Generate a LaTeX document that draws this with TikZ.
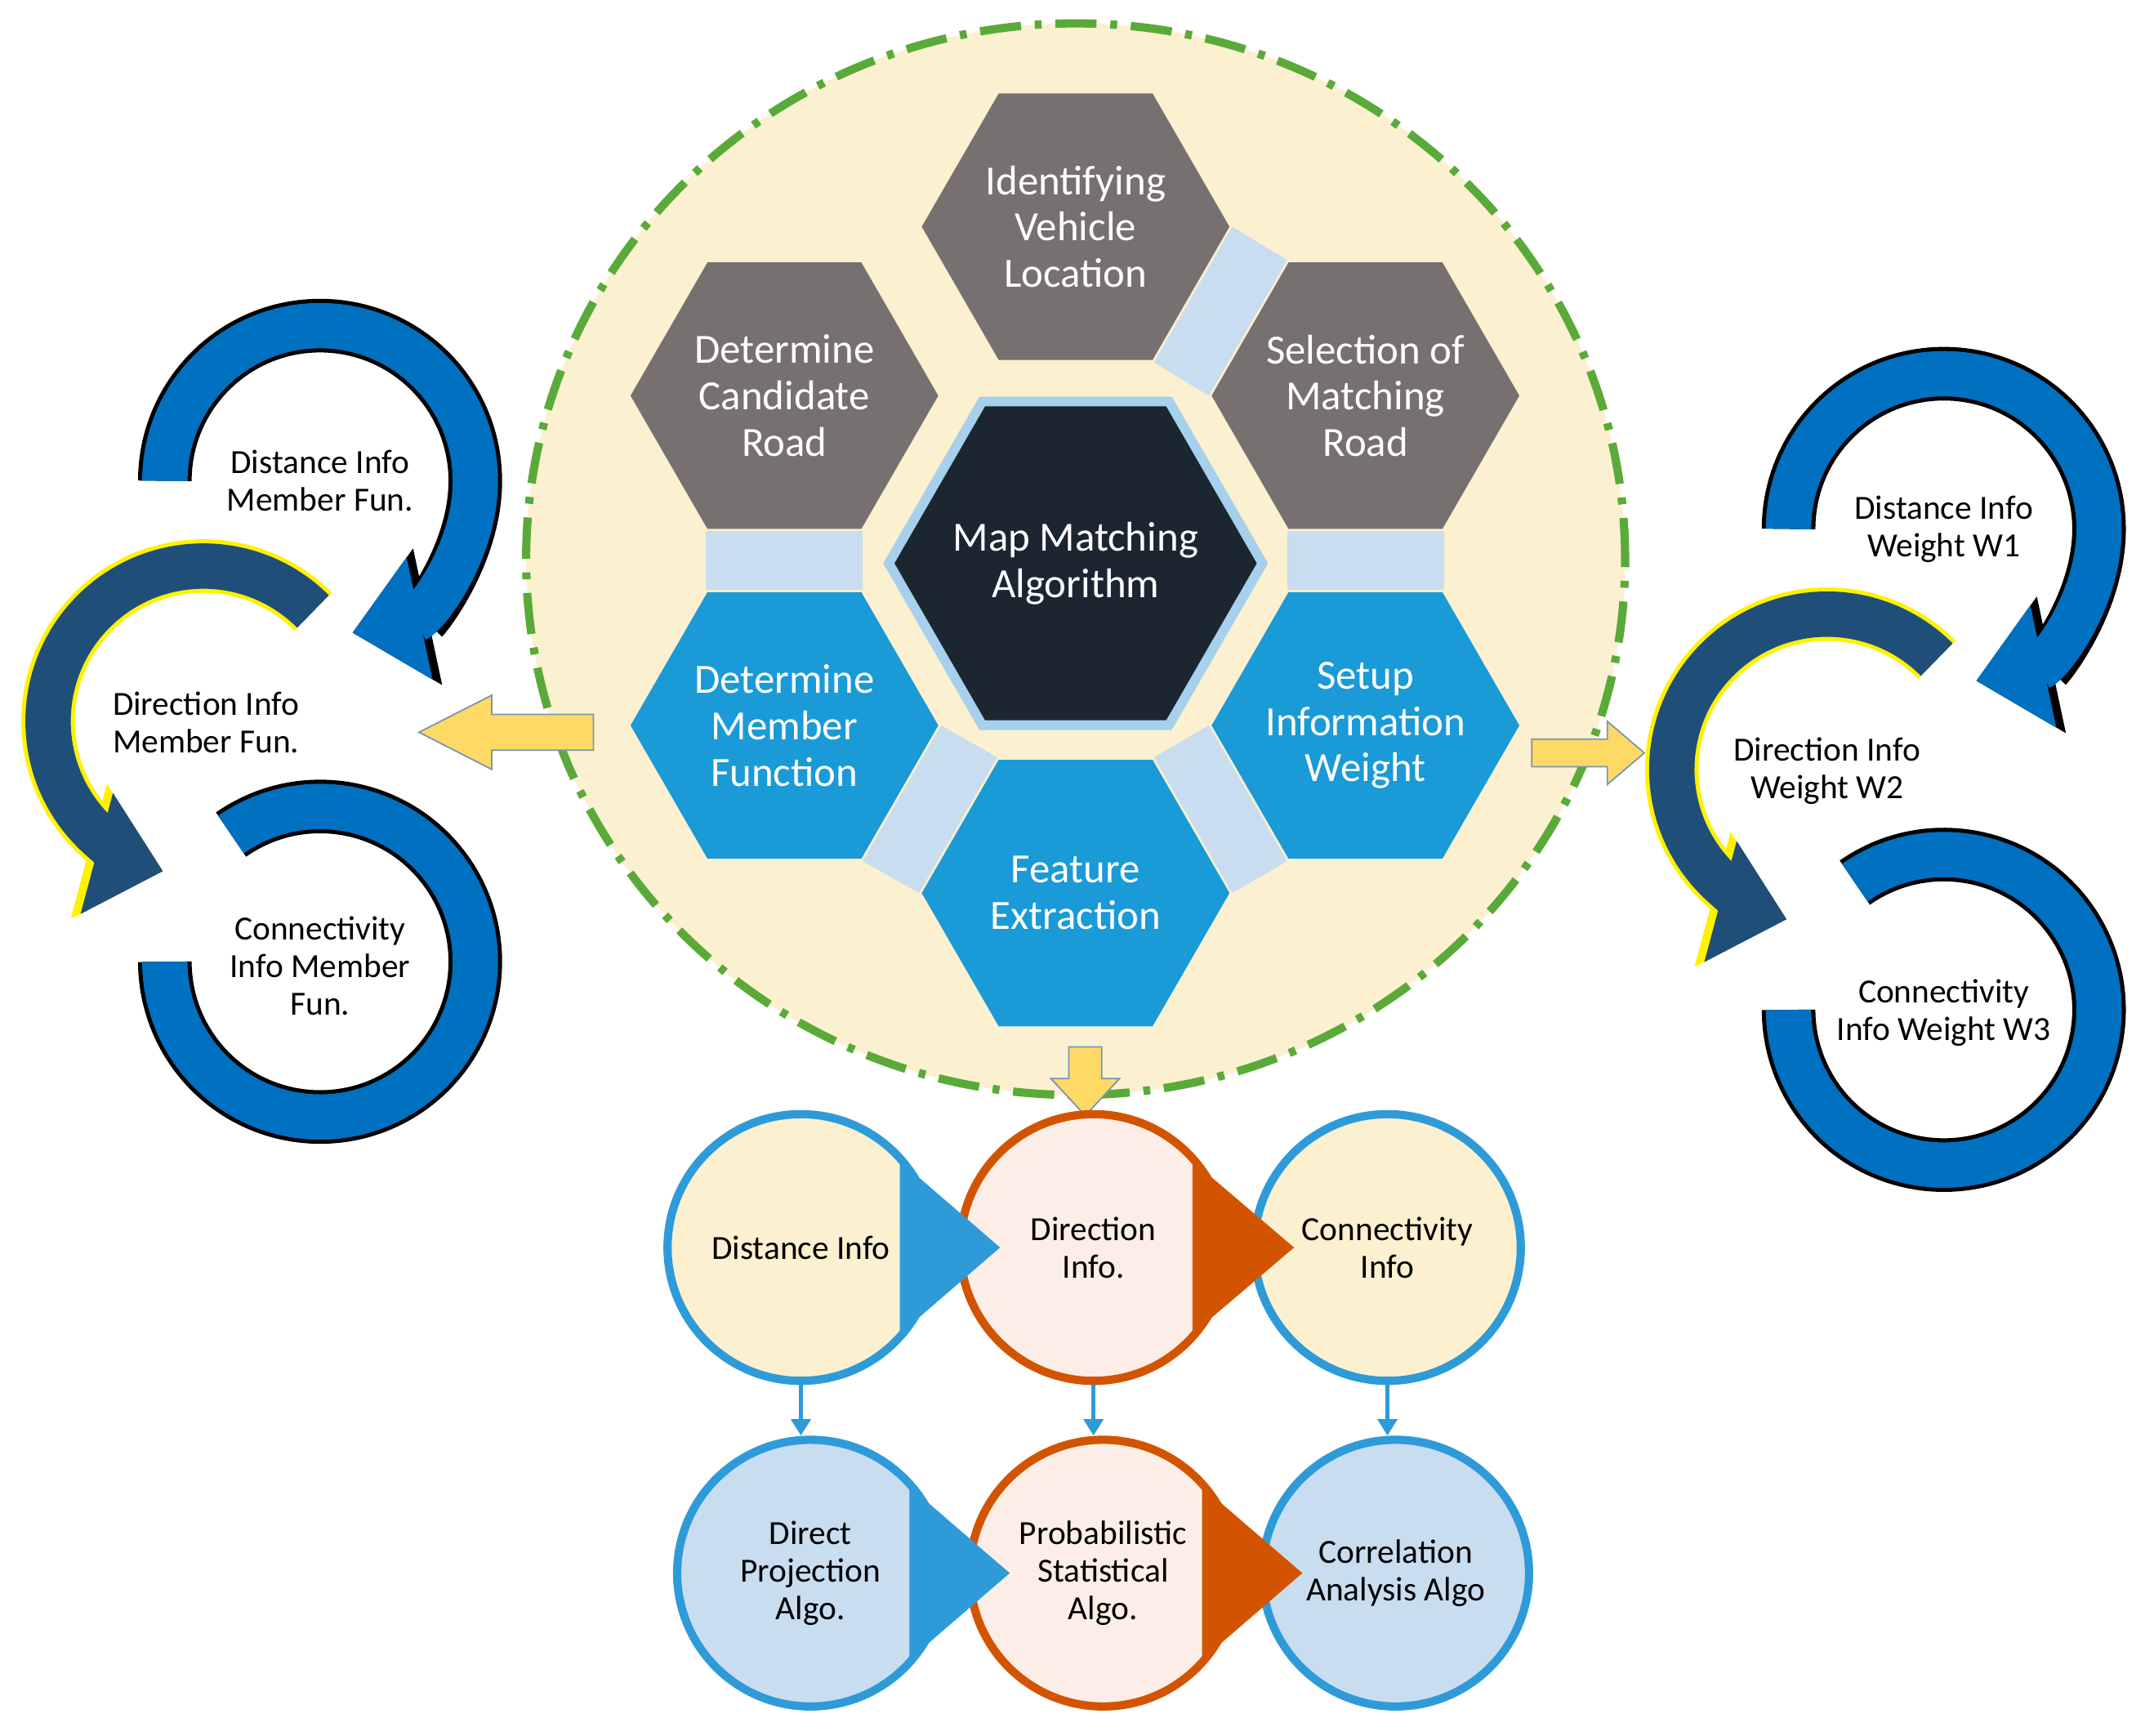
\documentclass[tikz,border=0pt]{standalone}
\usepackage{fontspec}
\setmainfont{Carlito}
\usetikzlibrary{calc,arrows.meta}
\definecolor{bgy}{HTML}{FBF0CF}
\definecolor{grn}{HTML}{5AAA3A}
\definecolor{hgray}{HTML}{767070}
\definecolor{hblue}{HTML}{1A9AD6}
\definecolor{hdark}{HTML}{1B2631}
\definecolor{lblue}{HTML}{C9DDF0}
\definecolor{ringb}{HTML}{0070C0}
\definecolor{navy}{HTML}{1F4E79}
\definecolor{yel}{HTML}{FFD966}
\definecolor{pinkf}{HTML}{FCEEE6}
\definecolor{orng}{HTML}{D35400}
\definecolor{cblue}{HTML}{2E9BD8}
\newcommand\hexa[6]{%
\fill[#5] (#2,#3) +(0:#4) -- +(60:#4) -- +(120:#4) -- +(180:#4) -- +(240:#4) -- +(300:#4) -- cycle;
\node[hextext] (#1) at (#2,#3) {#6};}
\newcommand\conn[8]{\fill[lblue] ($(#1)+(#2:114)$) -- ($(#1)+(#3:114)$) -- ($(#4)+(#5:114)$) -- ($(#4)+(#6:114)$) -- cycle;}
\begin{document}
\begin{tikzpicture}[x=0.01cm,y=0.01cm,
 hextext/.style={text=white,align=center,font=\fontsize{8.6}{9.6}\selectfont},
 ctext/.style={align=center,font=\fontsize{7}{7.8}\selectfont},
 cyc/.style={align=center,font=\fontsize{7}{7.8}\selectfont},
 yarrow/.style={fill=yel,draw=navy!60,line width=0.3pt},
 bc/.style={circle,minimum size=1.94cm,line width=0.06cm,inner sep=0pt},
 ringout/.style={line width=0.39cm,-{Triangle[length=0.56cm,width=0.98cm]}},
 ringin/.style={line width=0.33cm,-{Triangle[length=0.5cm,width=0.88cm]}}]
\useasboundingbox (0,0) rectangle (1568,-1263);
% big circle
\draw[fill=bgy,draw=grn,line width=0.06cm,dash pattern=on 0.3cm off 0.1cm on 0.05cm off 0.1cm] (783,-407) ellipse[x radius=400,y radius=390];
\coordinate (ci) at (783,-165);
\coordinate (cs) at (994,-288);
\coordinate (ct) at (994,-528);
\coordinate (cf) at (783,-650);
\coordinate (cm) at (571,-528);
\coordinate (cc) at (571,-288);
\conn{ci}{0}{-60}{cs}{180}{120}{}{}
\conn{cs}{-60}{-120}{ct}{120}{60}{}{}
\conn{ct}{-120}{180}{cf}{60}{0}{}{}
\conn{cf}{180}{120}{cm}{0}{-60}{}{}
\conn{cm}{120}{60}{cc}{-60}{-120}{}{}
\hexa{ident}{783}{-165}{112}{hgray}{Identifying\\Vehicle\\Location}
\hexa{select}{994}{-288}{112}{hgray}{Selection of\\Matching\\Road}
\hexa{cand}{571}{-288}{112}{hgray}{Determine\\Candidate\\Road}
\hexa{member}{571}{-528}{112}{hblue}{Determine\\Member\\Function}
\hexa{setup}{994}{-528}{112}{hblue}{Setup\\Information\\Weight}
\hexa{feat}{783}{-650}{112}{hblue}{Feature\\Extraction}
\draw[fill=hdark,draw=lblue!80!hblue,line width=0.07cm] (783,-410) +(0:136) -- +(60:136) -- +(120:136) -- +(180:136) -- +(240:136) -- +(300:136) -- cycle;
\node[hextext] (mma) at (783,-410) {Map Matching\\Algorithm};
% yellow arrows
\draw[yarrow] (432,-520) -- (358,-520) -- (358,-506) -- (305,-533) -- (358,-560) -- (358,-546) -- (432,-546) -- cycle;
\draw[yarrow] (1115,-538) -- (1170,-538) -- (1170,-525) -- (1197,-548) -- (1170,-571) -- (1170,-558) -- (1115,-558) -- cycle;
\draw[yarrow] (778,-762) -- (802,-762) -- (802,-785) -- (815,-785) -- (790,-812) -- (765,-785) -- (778,-785) -- cycle;
% left cycle
\draw[ringout,black] ($(233,-350)+(180:113)$) arc[start angle=180,end angle=-78,radius=113];
\draw[ringin,ringb] ($(233,-350)+(180:113)$) arc[start angle=180,end angle=-78,radius=113];
\draw[line width=0.39cm,black] ($(233,-700)+(125:113)$) arc[start angle=125,end angle=-180,radius=113];
\draw[line width=0.33cm,ringb] ($(233,-700)+(125:113)$) arc[start angle=125,end angle=-180,radius=113];
\draw[ringout,yellow] ($(148,-525)+(45:113)$) arc[start angle=45,end angle=255,radius=113];
\draw[ringin,navy] ($(148,-525)+(45:113)$) arc[start angle=45,end angle=255,radius=113];
\node[cyc] (l1) at (233,-350) {Distance Info\\Member Fun.};
\node[cyc] (l2) at (150,-526) {Direction Info\\Member Fun.};
\node[cyc] (l3) at (233,-703) {Connectivity\\Info Member\\Fun.};
% right cycle
\draw[ringout,black] ($(1415,-385)+(180:113)$) arc[start angle=180,end angle=-78,radius=113];
\draw[ringin,ringb] ($(1415,-385)+(180:113)$) arc[start angle=180,end angle=-78,radius=113];
\draw[line width=0.39cm,black] ($(1415,-735)+(125:113)$) arc[start angle=125,end angle=-180,radius=113];
\draw[line width=0.33cm,ringb] ($(1415,-735)+(125:113)$) arc[start angle=125,end angle=-180,radius=113];
\draw[ringout,yellow] ($(1330,-560)+(45:113)$) arc[start angle=45,end angle=255,radius=113];
\draw[ringin,navy] ($(1330,-560)+(45:113)$) arc[start angle=45,end angle=255,radius=113];
\node[cyc] (r1) at (1415,-385) {Distance Info\\Weight W1};
\node[cyc] (r2) at (1330,-561) {Direction Info\\Weight W2};
\node[cyc] (r3) at (1415,-737) {Connectivity\\Info Weight W3};
% bottom circles
\node[bc,draw=cblue,fill=bgy] (dist) at (583,-908) {};
\node[bc,draw=orng,fill=pinkf] (dir) at (796,-908) {};
\node[bc,draw=cblue,fill=bgy] (con) at (1010,-908) {};
\node[bc,draw=cblue,fill=lblue] (dpa) at (590,-1145) {};
\node[bc,draw=orng,fill=pinkf] (psa) at (803,-1145) {};
\node[bc,draw=cblue,fill=lblue] (caa) at (1016,-1145) {};
\fill[cblue] (655,-845) -- (728,-908) -- (655,-971) -- cycle;
\fill[orng] (868,-845) -- (942,-908) -- (868,-971) -- cycle;
\fill[cblue] (662,-1082) -- (735,-1145) -- (662,-1208) -- cycle;
\fill[orng] (875,-1082) -- (948,-1145) -- (875,-1208) -- cycle;
\node[ctext] at (dist) {Distance Info};
\node[ctext] at (dir) {Direction\\Info.};
\node[ctext] at (con) {Connectivity\\Info};
\node[ctext] at (dpa) {Direct\\Projection\\Algo.};
\node[ctext] at (psa) {Probabilistic\\Statistical\\Algo.};
\node[ctext] at (caa) {Correlation\\Analysis Algo};
\draw[cblue,line width=0.03cm,-{Triangle[length=0.12cm,width=0.14cm]}] (dist.south) -- (dpa.north -| dist.south);
\draw[cblue,line width=0.03cm,-{Triangle[length=0.12cm,width=0.14cm]}] (dir.south) -- (psa.north -| dir.south);
\draw[cblue,line width=0.03cm,-{Triangle[length=0.12cm,width=0.14cm]}] (con.south) -- (caa.north -| con.south);
\end{tikzpicture}
\end{document}
